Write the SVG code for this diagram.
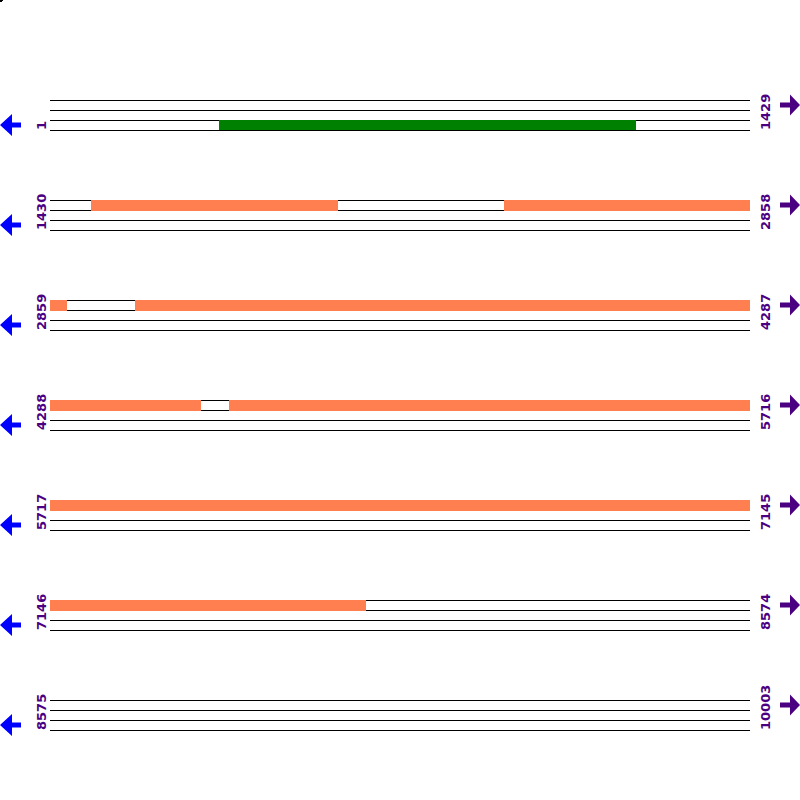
<svg xmlns="http://www.w3.org/2000/svg" width="800" height="800" viewBox="0 0 800 800">
<style>
.ln{stroke:#000;stroke-width:1;fill:none}
.or{fill:#FF7F50}
.gr{fill:#008000}
.lbl{font-family:"DejaVu Sans",Verdana,sans-serif;font-size:13px;font-weight:bold;fill:#4B0082}
.la{fill:#0000FF}
.ra{fill:#4B0082}
</style>
<defs>
<g id="lines">
<path class="ln" d="M50 0.5H750M50 10.5H750M50 20.5H750M50 30.5H750"/>
</g>
<path id="larrow" d="M0 0L12 -11V-2.5H21V2.5H12V11Z"/>
<path id="rarrow" d="M800 0L790 -10.5V-2.5H780V2.5H790V10.5Z"/>
</defs>
<rect width="800" height="800" fill="#fff"/>
<path d="M0 0H3V1H2V2H0Z" fill="#000"/>
<g id="row1">
<use href="#lines" y="100"/>
<text class="lbl" transform="translate(46,130) rotate(-90)">1</text>
<text class="lbl" transform="translate(770,130) rotate(-90)">1429</text>
<use class="la" href="#larrow" y="125"/>
<use class="ra" href="#rarrow" y="105"/>
</g>
<g id="row2">
<use href="#lines" y="200"/>
<text class="lbl" transform="translate(46,230) rotate(-90)">1430</text>
<text class="lbl" transform="translate(770,230) rotate(-90)">2858</text>
<use class="la" href="#larrow" y="225"/>
<use class="ra" href="#rarrow" y="205"/>
</g>
<g id="row3">
<use href="#lines" y="300"/>
<text class="lbl" transform="translate(46,330) rotate(-90)">2859</text>
<text class="lbl" transform="translate(770,330) rotate(-90)">4287</text>
<use class="la" href="#larrow" y="325"/>
<use class="ra" href="#rarrow" y="305"/>
</g>
<g id="row4">
<use href="#lines" y="400"/>
<text class="lbl" transform="translate(46,430) rotate(-90)">4288</text>
<text class="lbl" transform="translate(770,430) rotate(-90)">5716</text>
<use class="la" href="#larrow" y="425"/>
<use class="ra" href="#rarrow" y="405"/>
</g>
<g id="row5">
<use href="#lines" y="500"/>
<text class="lbl" transform="translate(46,530) rotate(-90)">5717</text>
<text class="lbl" transform="translate(770,530) rotate(-90)">7145</text>
<use class="la" href="#larrow" y="525"/>
<use class="ra" href="#rarrow" y="505"/>
</g>
<g id="row6">
<use href="#lines" y="600"/>
<text class="lbl" transform="translate(46,630) rotate(-90)">7146</text>
<text class="lbl" transform="translate(770,630) rotate(-90)">8574</text>
<use class="la" href="#larrow" y="625"/>
<use class="ra" href="#rarrow" y="605"/>
</g>
<g id="row7">
<use href="#lines" y="700"/>
<text class="lbl" transform="translate(46,730) rotate(-90)">8575</text>
<text class="lbl" transform="translate(770,730) rotate(-90)">10003</text>
<use class="la" href="#larrow" y="725"/>
<use class="ra" href="#rarrow" y="705"/>
</g>
<g id="features">
<rect class="gr" x="219" y="120" width="417" height="10"/>
<rect class="or" x="91" y="200" width="247" height="11"/>
<rect class="or" x="504" y="200" width="246" height="11"/>
<rect class="or" x="50" y="300" width="17" height="11"/>
<rect class="or" x="135" y="300" width="615" height="11"/>
<rect class="or" x="50" y="400" width="151" height="11"/>
<rect class="or" x="229" y="400" width="521" height="11"/>
<rect class="or" x="50" y="500" width="700" height="11"/>
<rect class="or" x="50" y="600" width="316" height="11"/>
</g>
</svg>
